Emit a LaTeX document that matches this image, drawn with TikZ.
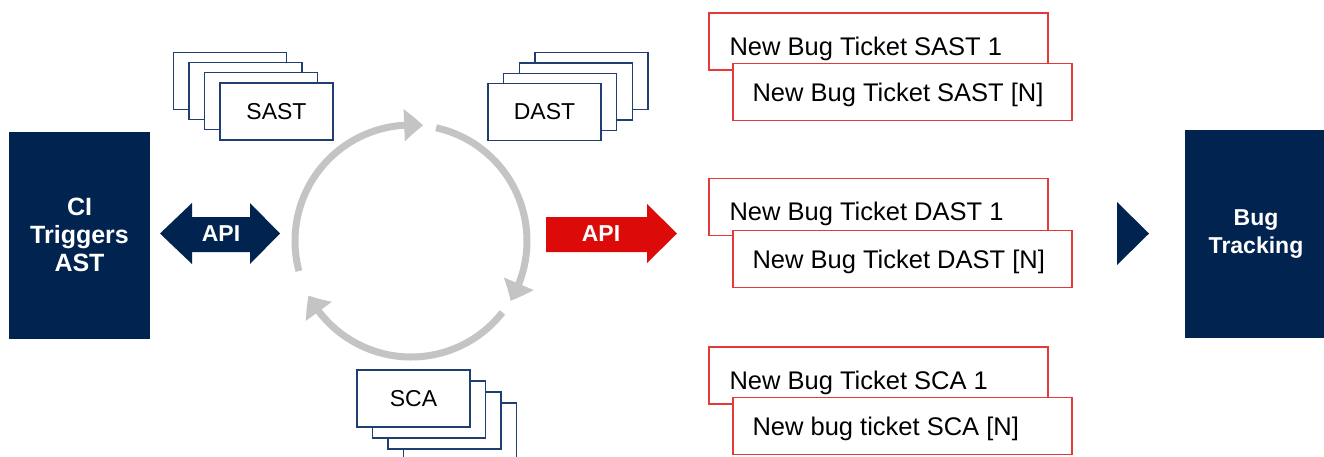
\documentclass[tikz,border=0pt]{standalone}
\usepackage{fontspec}
\setmainfont{Liberation Sans}
\usetikzlibrary{arrows.meta,bending}

\definecolor{navy}{HTML}{00234F}
\definecolor{stackblue}{HTML}{1F3F73}
\definecolor{apired}{HTML}{DD0A0A}
\definecolor{ticketred}{HTML}{E53A3A}
\definecolor{cyclegray}{HTML}{C4C4C4}

\tikzset{
  block/.style={fill=navy, text=white, align=center, inner sep=0pt,
    font=\bfseries\fontsize{23}{28}\selectfont},
  stackbox/.style={draw=stackblue, line width=1.4pt, fill=white,
    minimum width=113pt, minimum height=57pt, inner sep=0pt,
    font=\fontsize{23}{27}\selectfont},
  ticket/.style={draw=ticketred, line width=1.4pt, fill=white,
    minimum width=339pt, minimum height=57pt, inner sep=0pt},
  tickettext/.style={anchor=base west, inner sep=0pt,
    font=\fontsize{25.5}{29}\selectfont},
  cyclearc/.style={draw=cyclegray, line width=7pt,
    -{Triangle[width=31pt,length=19pt,bend]}},
  apitext/.style={text=white, font=\bfseries\fontsize{23}{27}\selectfont},
}

\begin{document}
\begin{tikzpicture}[x=1pt,y=-1pt]
\clip (0,0) rectangle (1324,456);
\fill[white] (0,0) rectangle (1324,456);

% end blocks
\node[block, minimum width=141pt, minimum height=207pt,
  font=\bfseries\fontsize{25}{28}\selectfont] (ci) at (79.5,235)
  {CI\\Triggers\\AST};
\node[block, minimum width=142pt, minimum height=208pt] (bt) at (1256,234)
  {Bug\\Tracking};

% two-way API arrow
\coordinate (dl) at (160,233.5);
\coordinate (dr) at (280,233.5);
\fill[navy] (dl) -- (192,203) -- (192,217) -- (250,217) -- (250,203) -- (dr)
  -- (250,264) -- (250,252) -- (192,252) -- (192,264) -- cycle;
\node[apitext] (api1) at (221,234) {API};

% one-way API arrow
\coordinate (rt) at (677,233.5);
\fill[apired] (546,217) -- (647,217) -- (647,204) -- (rt) -- (647,263)
  -- (647,252) -- (546,252) -- cycle;
\node[apitext] (api2) at (601,234) {API};

% pointer into bug tracking
\coordinate (tp) at (1149,233.5);
\fill[navy] (1117,202) -- (tp) -- (1117,265) -- cycle;

% scan cycle
\coordinate (c) at (411,241);
\draw[cyclearc] (c) ++(-195:116) arc[start angle=-195, end angle=-84, radius=116];
\draw[cyclearc] (c) ++(-77.5:116) arc[start angle=-77.5, end angle=31, radius=116];
\draw[cyclearc] (c) ++(38:116) arc[start angle=38, end angle=152, radius=116];

% SAST stack
\node[stackbox] (sast4) at (229.7,80.8) {};
\node[stackbox] (sast3) at (245.3,91.0) {};
\node[stackbox] (sast2) at (260.9,101.2) {};
\node[stackbox] (sast)  at (276.5,111.5) {SAST};

% DAST stack
\node[stackbox] (dast4) at (591.6,81.1) {};
\node[stackbox] (dast3) at (575.9,91.4) {};
\node[stackbox] (dast2) at (560.2,101.7) {};
\node[stackbox] (dast)  at (544.5,112) {DAST};

% SCA stack
\node[stackbox] (sca4) at (460,431.5) {};
\node[stackbox] (sca3) at (444.5,420.5) {};
\node[stackbox] (sca2) at (429,409.5) {};
\node[stackbox] (sca)  at (413.5,398.5) {SCA};

% tickets: first ticket of each kind, then the last one overlapping it
\node[ticket] (ts1) at (878.5,41.5) {};
\node[tickettext] (ts1t) at ([shift={(21,13.6)}]ts1.west) {New Bug Ticket SAST 1};
\node[ticket] (tsn) at (902.5,92) {};
\node[tickettext] (tsnt) at ([shift={(20,9.6)}]tsn.west) {New Bug Ticket SAST [N]};

\node[ticket] (td1) at (878.5,207) {};
\node[tickettext] (td1t) at ([shift={(21,13.6)}]td1.west) {New Bug Ticket DAST 1};
\node[ticket] (tdn) at (902.5,259) {};
\node[tickettext] (tdnt) at ([shift={(20,9.6)}]tdn.west) {New Bug Ticket DAST [N]};

\node[ticket] (tc1) at (878.5,375.5) {};
\node[tickettext] (tc1t) at ([shift={(21,13.6)}]tc1.west) {New Bug Ticket SCA 1};
\node[ticket] (tcn) at (902.5,426) {};
\node[tickettext] (tcnt) at ([shift={(20,9.6)}]tcn.west) {New bug ticket SCA [N]};
\end{tikzpicture}
\end{document}
